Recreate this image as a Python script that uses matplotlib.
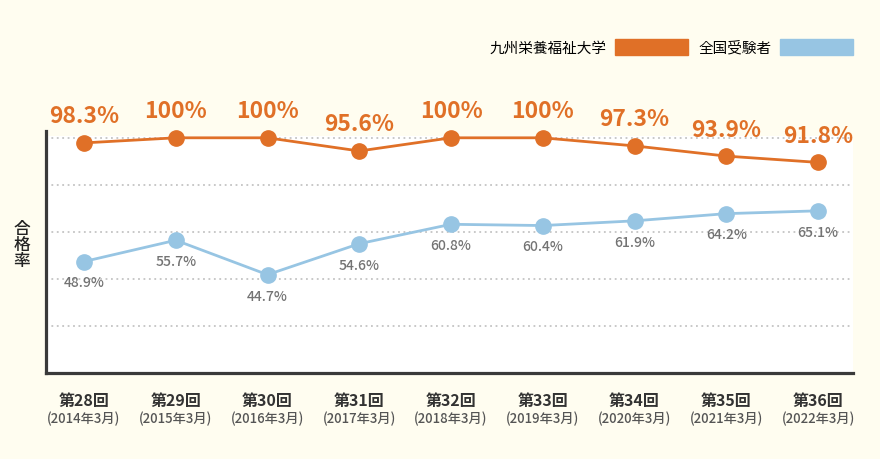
import matplotlib
matplotlib.use("Agg")
import matplotlib.pyplot as plt

plt.rcParams['font.family'] = ['Noto Sans CJK JP', 'DejaVu Sans']

# ============================================================
# データ
# ============================================================
rounds = ["第28回", "第29回", "第30回", "第31回", "第32回",
          "第33回", "第34回", "第35回", "第36回"]
dates = ["(2014年3月)", "(2015年3月)", "(2016年3月)", "(2017年3月)", "(2018年3月)",
         "(2019年3月)", "(2020年3月)", "(2021年3月)", "(2022年3月)"]
school_rate = [98.3, 100, 100, 95.6, 100, 100, 97.3, 93.9, 91.8]
national_rate = [48.9, 55.7, 44.7, 54.6, 60.8, 60.4, 61.9, 64.2, 65.1]
school_name = "九州栄養福祉大学"
national_name = "全国受験者"

ORANGE = "#e07027"
BLUE = "#97c5e3"
BG = "#fffdf0"

# ============================================================
# 描画
# ============================================================
fig = plt.figure(figsize=(8.8, 4.6), dpi=100, facecolor=BG)
W, H = 880, 460
left, right, bottom, top = 46, 853, 374, 137
ax = fig.add_axes([left / W, 1 - bottom / H, (right - left) / W, (bottom - top) / H])
ax.set_facecolor("white")

xs = list(range(len(rounds)))
ax.set_xlim(-0.414, 8.381)
ax.set_ylim(0, 101)
ax.set_yticks([20, 40, 60, 80, 100])
ax.set_xticks([])
ax.tick_params(axis="y", length=0, labelleft=False)
ax.grid(axis="y", color="#c4c4c4", linestyle=(0, (1, 2)), linewidth=1.3)
for s in ("top", "right"):
    ax.spines[s].set_visible(False)
for s in ("left", "bottom"):
    ax.spines[s].set_color("#3a3a3a")
    ax.spines[s].set_linewidth(2.3)
ax.spines["left"].set_bounds(0, 103)

# 全国受験者（青）
ax_b = ax.twinx()
ax_b.set_ylim(13.3, 89.0)
ax_b.axis("off")
ax_b.plot(xs, national_rate, color=BLUE, linewidth=2, marker="o",
          markersize=11, clip_on=False, zorder=3)
for x, v in zip(xs, national_rate):
    ax_b.annotate(f"{v}%", xy=(x, v), xytext=(0, -15), textcoords="offset points",
                  ha="center", va="center", fontsize=10, color="#737373",
                  fontweight="medium")

# 九州栄養福祉大学（オレンジ）
ax_o = ax.twinx()
ax_o.set_ylim(21.6, 100.6)
ax_o.axis("off")
ax_o.plot(xs, school_rate, color=ORANGE, linewidth=2, marker="o",
          markersize=11, clip_on=False, zorder=3)
for x, v in zip(xs, school_rate):
    lbl = f"{v:g}%"
    ax_o.annotate(lbl, xy=(x, v), xytext=(0, 19.5), textcoords="offset points",
                  ha="center", va="center", fontsize=16.5, color=ORANGE,
                  fontweight="semibold", annotation_clip=False)

# x軸ラベル
for x, r, d in zip(xs, rounds, dates):
    ax.annotate(r, xy=(x, 0), xycoords=("data", "axes fraction"),
                xytext=(0, -19.5), textcoords="offset points",
                ha="center", va="center", fontsize=11.5, fontweight="bold",
                color="#333333", annotation_clip=False)
    ax.annotate(d, xy=(x, 0), xycoords=("data", "axes fraction"),
                xytext=(0, -32.5), textcoords="offset points",
                ha="center", va="center", fontsize=9.5, color="#555555",
                fontweight="medium", annotation_clip=False)

# y軸ラベル
fig.text(22 / W, 1 - 245 / H, "合\n格\n率", ha="center", va="center",
         fontsize=12, fontweight="medium", color="#222222", linespacing=0.85)

# 凡例
h_o = plt.Rectangle((0, 0), 1, 1, color=ORANGE)
h_b = plt.Rectangle((0, 0), 1, 1, color=BLUE)
fig.legend([h_o, h_b], [school_name, national_name], ncol=2, markerfirst=False,
           frameon=False, loc="center right", bbox_to_anchor=(853 / W, 1 - 48 / H),
           fontsize=10.5, handlelength=5.0, handleheight=1.35, handletextpad=0.6,
           columnspacing=0.7, borderpad=0, borderaxespad=0)

fig.savefig("out.png", dpi=100, facecolor=BG)
